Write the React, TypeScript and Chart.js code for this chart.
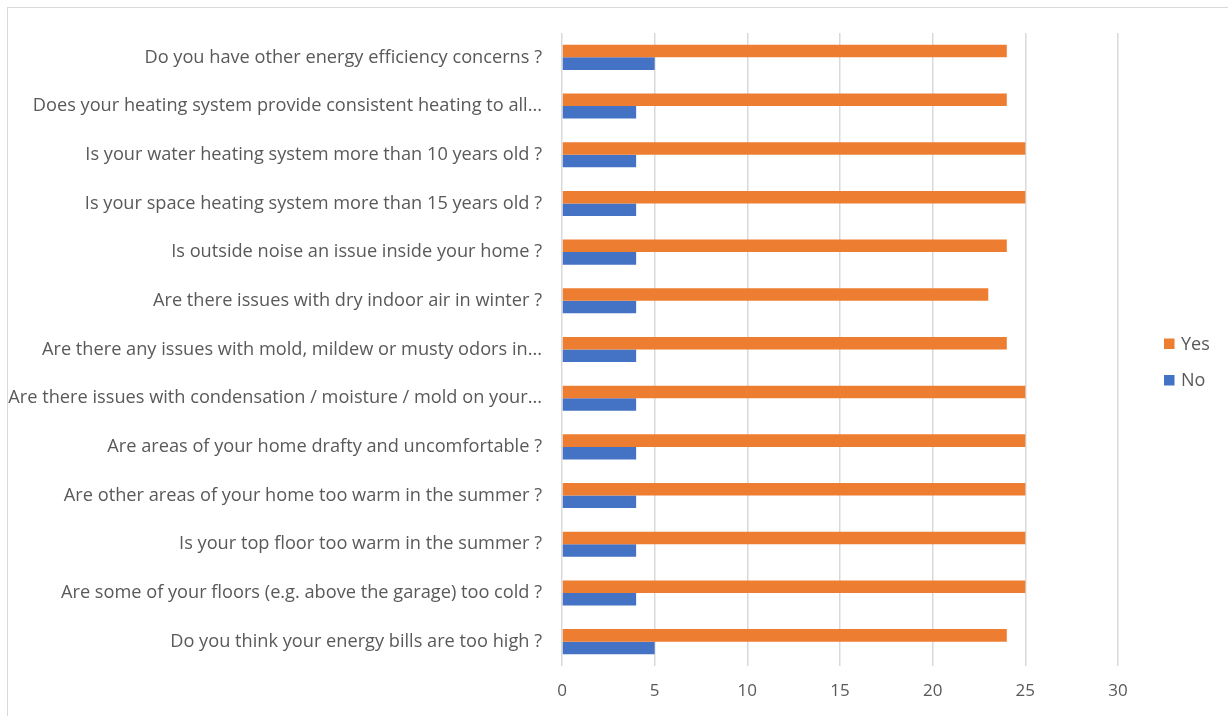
import React, { useEffect, useRef } from "react";
import { Chart, registerables } from "chart.js";

Chart.register(...registerables);

// Survey questions, listed top to bottom
const questions: string[] = [
  "Do you have other energy efficiency concerns ?",
  "Does your heating system provide consistent heating to all...",
  "Is your water heating system more than 10 years old ?",
  "Is your space heating system more than 15 years old ?",
  "Is outside noise an issue inside your home ?",
  "Are there issues with dry indoor air in winter ?",
  "Are there any issues with mold, mildew or musty odors in...",
  "Are there issues with condensation / moisture / mold on your...",
  "Are areas of your home drafty and uncomfortable ?",
  "Are other areas of your home too warm in the summer ?",
  "Is your top floor too warm in the summer ?",
  "Are some of your floors (e.g. above the garage) too cold ?",
  "Do you think your energy bills are too high ?",
];

const yesCounts: number[] = [24, 24, 25, 25, 24, 23, 24, 25, 25, 25, 25, 25, 24];
const noCounts: number[] = [5, 4, 4, 4, 4, 4, 4, 4, 4, 4, 4, 4, 5];

const seriesNames: string[] = ["Yes", "No"];
const axisMax = 30;
const axisStep = 5;

const ORANGE = "#ED7D31";
const BLUE = "#4472C4";
const TEXT = "#595959";
const GRID = "#d9d9d9";
const FONT = "'Open Sans', 'Noto Sans', sans-serif";

// Legend drawn to the right of the plot, centred vertically on the canvas
const sideLegend = {
  id: "sideLegend",
  afterDraw(chart: any) {
    const { ctx, chartArea } = chart;
    const sets = chart.data.datasets;
    const gap = 36.5;
    const midY = chart.height / 2;
    const boxX = chartArea.right + 46;
    const box = 10.5;
    ctx.save();
    ctx.font = `18px ${FONT}`;
    ctx.textBaseline = "middle";
    ctx.textAlign = "left";
    sets.forEach((d: any, i: number) => {
      const y = midY - gap / 2 + i * gap;
      ctx.fillStyle = d.backgroundColor;
      ctx.fillRect(boxX, y - box / 2, box, box);
      ctx.fillStyle = TEXT;
      ctx.fillText(d.label, boxX + 17, y + 1);
    });
    ctx.restore();
  },
};

export default function App() {
  const canvasRef = useRef<HTMLCanvasElement | null>(null);

  useEffect(() => {
    if (!canvasRef.current) return;
    const chart = new Chart(canvasRef.current, {
      type: "bar",
      data: {
        labels: questions,
        datasets: [
          {
            label: seriesNames[0],
            data: yesCounts,
            backgroundColor: ORANGE,
            categoryPercentage: 0.515,
            barPercentage: 1,
          },
          {
            label: seriesNames[1],
            data: noCounts,
            backgroundColor: BLUE,
            categoryPercentage: 0.515,
            barPercentage: 1,
          },
        ],
      },
      options: {
        indexAxis: "y",
        animation: false,
        responsive: false,
        maintainAspectRatio: false,
        layout: { padding: { top: 25, right: 110, left: 0, bottom: 0 } },
        plugins: {
          legend: { display: false },
          tooltip: { enabled: false },
        },
        scales: {
          x: {
            min: 0,
            max: axisMax,
            position: "bottom",
            ticks: {
              stepSize: axisStep,
              color: TEXT,
              font: { family: FONT, size: 17 },
              padding: 15,
            },
            grid: { color: GRID, lineWidth: 1.5, drawTicks: false },
            border: { display: false },
            afterFit(scale: any) {
              scale.height = 50;
              scale.paddingLeft = 0;
              scale.paddingRight = 0;
            },
          },
          y: {
            ticks: {
              color: TEXT,
              font: { family: FONT, size: 18.2 },
              padding: 20,
              autoSkip: false,
            },
            grid: { display: false, drawTicks: false },
            border: { display: false },
            afterFit(scale: any) {
              scale.width = 554;
              scale.paddingTop = 0;
              scale.paddingBottom = 0;
            },
          },
        },
      },
      plugins: [sideLegend],
    } as any);
    return () => chart.destroy();
  }, []);

  return (
    <div
      style={{
        position: "fixed",
        left: 0,
        top: 0,
        width: 1228,
        height: 716,
        overflow: "hidden",
        background: "#ffffff",
      }}
    >
      <div
        style={{
          position: "absolute",
          left: 7,
          top: 7,
          width: 1260,
          height: 760,
          border: "1px solid #d9d9d9",
        }}
      />
      <canvas
        ref={canvasRef}
        width={1220}
        height={708}
        style={{ position: "absolute", left: 8, top: 8, width: 1220, height: 708 }}
      />
    </div>
  );
}
